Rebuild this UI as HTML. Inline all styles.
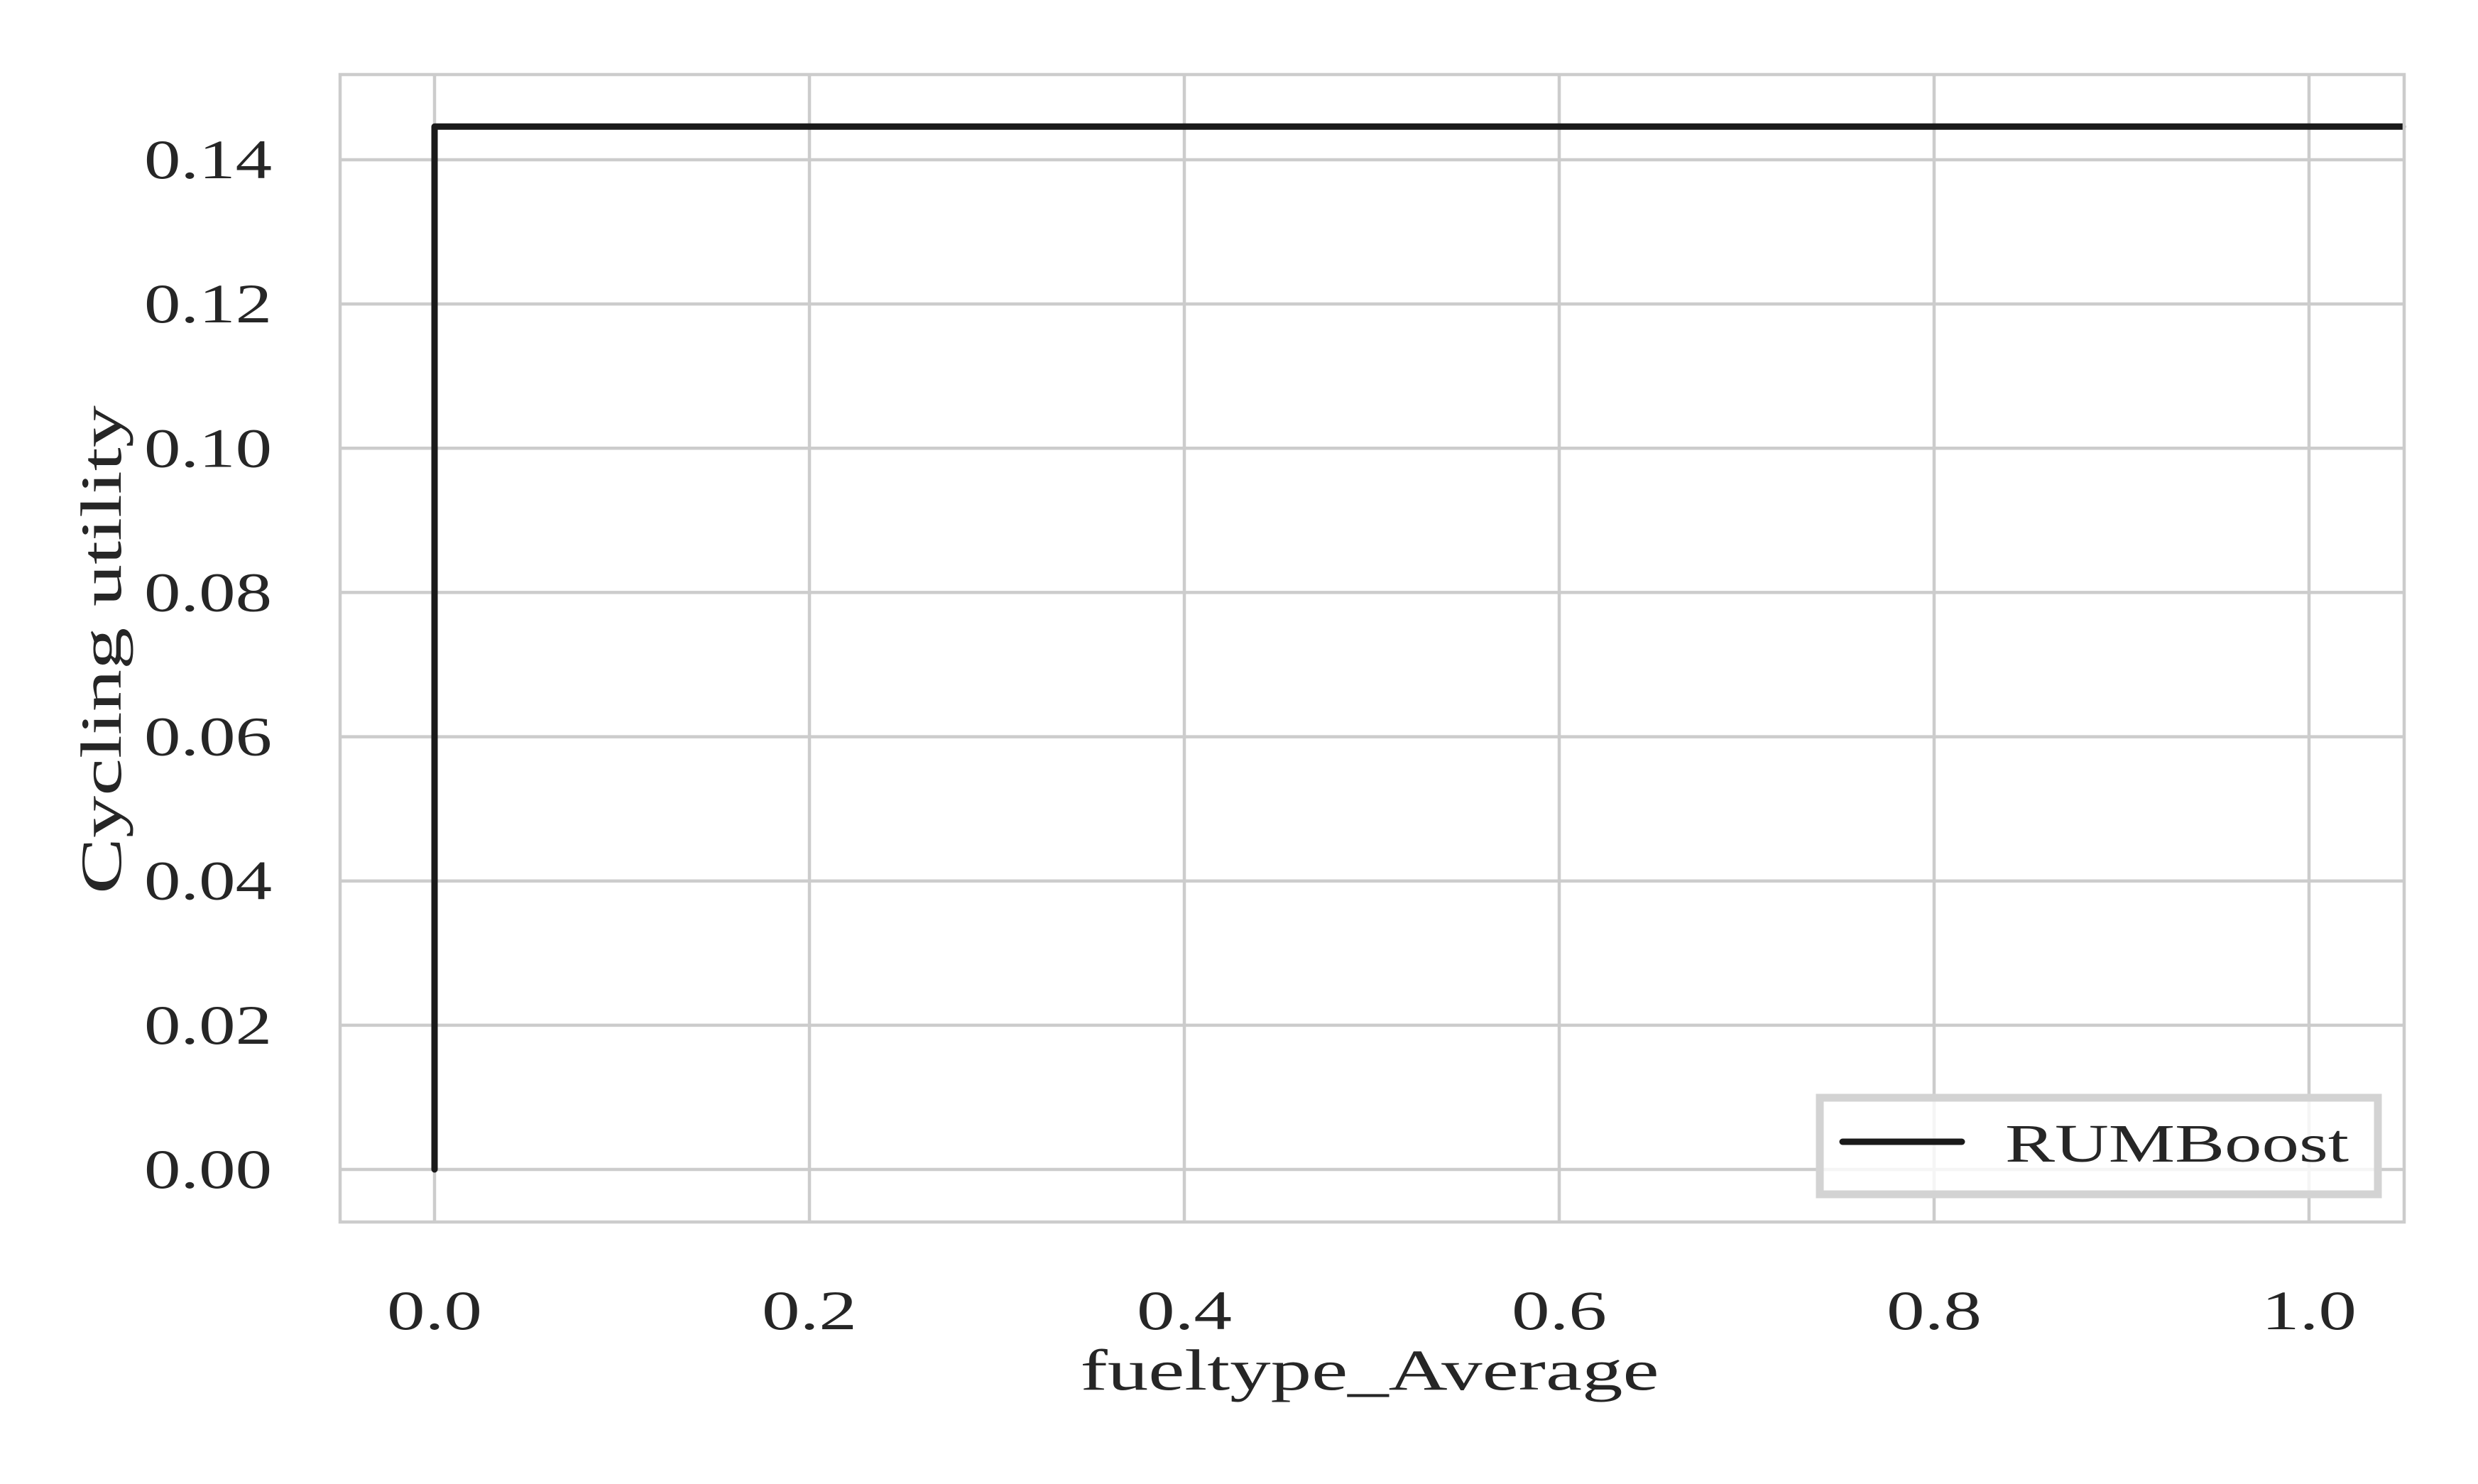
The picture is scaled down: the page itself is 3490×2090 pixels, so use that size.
<!DOCTYPE html>
<html><head><meta charset="utf-8"><style>
html,body{margin:0;padding:0;background:#fff;}
svg{display:block;}
text{font-family:"Liberation Serif",serif;fill:#262626;}
</style></head><body>
<svg id="chart" width="3490" height="2090" viewBox="0 0 3490 2090" xmlns="http://www.w3.org/2000/svg">
<g id="grid"></g>
<g id="ticks"></g>
<g id="series"></g>
<rect x="479" y="105" width="2907" height="1616" fill="none" stroke="#cccccc" stroke-width="4.5"/>
<text x="1929" y="1957" font-size="82" text-anchor="middle" textLength="815" lengthAdjust="spacingAndGlyphs">fueltype_Average</text>
<text transform="translate(170,915) rotate(-90)" font-size="82" text-anchor="middle" textLength="688" lengthAdjust="spacingAndGlyphs">Cycling utility</text>
<g>
<rect x="2563" y="1546" width="786" height="136" fill="#fff" fill-opacity="0.8" stroke="#d3d3d3" stroke-width="11"/>
<line x1="2595" y1="1608" x2="2763" y2="1608" stroke="#1a1a1a" stroke-width="9" stroke-linecap="round"/>
<text x="2824" y="1636" font-size="76" textLength="484" lengthAdjust="spacingAndGlyphs">RUMBoost</text>
</g>
</svg>
<script>
const xTicks=[0,0.2,0.4,0.6,0.8,1.0];
const xTickLabels=["0.0","0.2","0.4","0.6","0.8","1.0"];
const yTicks=[0,0.02,0.04,0.06,0.08,0.10,0.12,0.14];
const yTickLabels=["0.00","0.02","0.04","0.06","0.08","0.10","0.12","0.14"];
const seriesX=[0,0,1.05];
const seriesY=[0,0.1446,0.1446];
const NS="http://www.w3.org/2000/svg";
const L=479,R=3386,T=105,B=1721;
const X0=612,X1=3252;
const xs=v=>X0+v*(X1-X0);
const ys=v=>1647-v*(1647-225)/0.14;
const grid=document.getElementById('grid'),ticks=document.getElementById('ticks'),series=document.getElementById('series');
function mk(tag,attrs,parent){const e=document.createElementNS(NS,tag);for(const k in attrs)e.setAttribute(k,attrs[k]);parent.appendChild(e);return e;}
xTicks.forEach((v,i)=>{
 const g=mk('line',{x1:xs(v),x2:xs(v),y1:T,y2:B,stroke:'#cccccc','stroke-width':4.5},grid);
 
 
 const t=mk('text',{x:xs(v),y:1872,'font-size':78,'text-anchor':'middle',textLength:134,lengthAdjust:'spacingAndGlyphs'},ticks);
 t.textContent=xTickLabels[i];
 
 
});
yTicks.forEach((v,i)=>{
 const g=mk('line',{x1:L,x2:R,y1:ys(v),y2:ys(v),stroke:'#cccccc','stroke-width':4.5},grid);
 
 
 const t=mk('text',{x:203,y:ys(v)+26,'font-size':78,textLength:180,lengthAdjust:'spacingAndGlyphs'},ticks);
 t.textContent=yTickLabels[i];
 
 
});
const pts=seriesX.map((x,i)=>xs(x)+','+ys(seriesY[i])).join(' ');
const pl=mk('polyline',{points:pts,fill:'none',stroke:'#1a1a1a','stroke-width':9,'stroke-linejoin':'round','stroke-linecap':'round'},series);


</script>
</body></html>
